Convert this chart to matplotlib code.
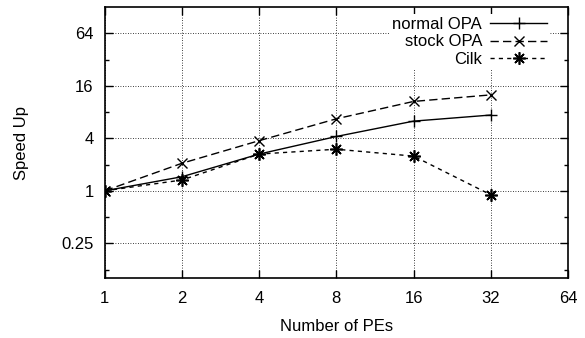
import matplotlib
matplotlib.use('Agg')
import matplotlib.pyplot as plt
from matplotlib.ticker import FixedLocator, FixedFormatter, NullLocator, NullFormatter

plt.rcParams['font.family'] = ['Liberation Sans', 'DejaVu Sans']

# Données
pes = [1, 2, 4, 8, 16, 32]
normal_opa = [1.0, 1.45, 2.64, 4.2, 6.3, 7.4]
stock_opa = [1.0, 2.07, 3.76, 6.7, 10.6, 12.6]
cilk = [1.0, 1.33, 2.64, 3.0, 2.5, 0.9]

x_ticks = [1, 2, 4, 8, 16, 32, 64]
y_ticks = [0.25, 1, 4, 16, 64]
y_ticklabels = ["0.25", "1", "4", "16", "64"]
y_minor = [0.125, 0.5, 2, 8, 32]

fig = plt.figure(figsize=(5.85, 3.38), dpi=100)
ax = fig.add_axes([0.179, 0.1775, 0.792, 0.8015])

ax.plot(pes, normal_opa, color='black', linestyle='-', linewidth=1.0,
        marker='+', markersize=9, markeredgewidth=1.0, label="normal OPA")
ax.plot(pes, stock_opa, color='black', linestyle=(0, (6, 3)), linewidth=1.0,
        marker='x', markersize=7, markeredgewidth=1.0, label="stock OPA")
ax.plot(pes, cilk, color='black', linestyle=(0, (3, 3)), linewidth=1.0,
        marker=(8, 2, 0), markersize=9, markeredgewidth=1.2, label="Cilk")

ax.set_xscale('log', base=2)
ax.set_yscale('log', base=2)
ax.set_xlim(1, 64)
ax.set_ylim(0.1, 128)

ax.xaxis.set_major_locator(FixedLocator(x_ticks))
ax.xaxis.set_major_formatter(FixedFormatter([str(v) for v in x_ticks]))
ax.xaxis.set_minor_locator(NullLocator())
ax.yaxis.set_major_locator(FixedLocator(y_ticks))
ax.yaxis.set_major_formatter(FixedFormatter(y_ticklabels))
ax.yaxis.set_minor_locator(FixedLocator(y_minor))
ax.yaxis.set_minor_formatter(NullFormatter())

ax.tick_params(which='both', direction='in', top=True, right=True,
               labelsize=12, width=1.0)
ax.tick_params(axis='x', pad=9)
ax.tick_params(axis='y', pad=8)
ax.tick_params(which='major', length=6)
ax.tick_params(which='minor', length=3)
for s in ax.spines.values():
    s.set_linewidth(1.2)

ax.grid(True, which='major', color='black', linestyle=(0, (1, 2)), linewidth=0.6)

ax.set_xlabel("Number of PEs", fontsize=12, labelpad=10)
ax.set_ylabel("Speed Up", fontsize=12, labelpad=23)

leg = ax.legend(loc='upper right', bbox_to_anchor=(0.962, 0.976),
                markerfirst=False, frameon=True, fontsize=12,
                handlelength=3.4, borderpad=0.2, labelspacing=0.15,
                borderaxespad=0.0, handletextpad=0.5, fancybox=False)
leg.get_frame().set_edgecolor('none')
leg.get_frame().set_facecolor('white')
leg.get_frame().set_alpha(1.0)

fig.savefig("out.png", dpi=100)
